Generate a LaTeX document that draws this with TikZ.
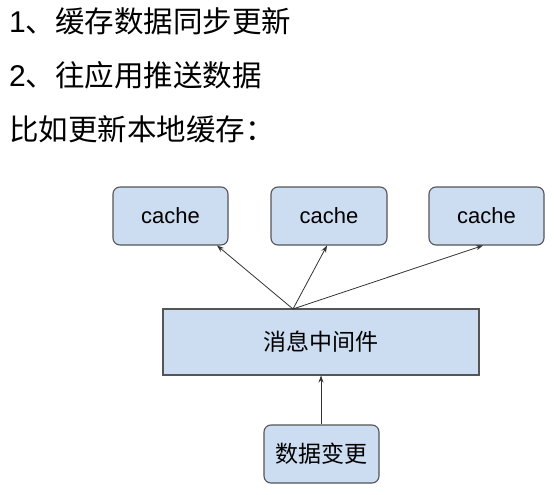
\documentclass[tikz,border=0pt]{standalone}
\usepackage{fontspec}
\setmainfont{Liberation Sans}
\newfontfamily\cjk{Noto Sans CJK SC}
\usetikzlibrary{arrows.meta}
\definecolor{boxfill}{HTML}{CCDCF1}
\definecolor{boxline}{HTML}{555555}
\begin{document}
\begin{tikzpicture}[x=1pt,y=-1pt,
  rbox/.style={draw=boxline,fill=boxfill,line width=1.1pt,rounded corners=7pt,inner sep=0pt},
  sbox/.style={draw=boxline,fill=boxfill,line width=1.1pt,inner sep=0pt},
  conn/.style={draw=black!80,line width=0.8pt,-{Stealth[length=7pt,width=5pt]}},
  head/.style={anchor=west,inner sep=0pt,font=\fontsize{30}{34}\selectfont}]
\useasboundingbox (0,0) rectangle (554,495);
\fill[white] (0,0) rectangle (554,495);
\node[head] (t1) at (9,21) {1{\cjk\fontsize{29.5}{34}\selectfont 、缓存数据同步更新}};
\node[head] (t2) at (9,75) {2{\cjk\fontsize{29.5}{34}\selectfont 、往应用推送数据}};
\node[head] (t3) at (9,129) {\cjk\fontsize{29.5}{34}\selectfont 比如更新本地缓存：};
\node[rbox,minimum width=115pt,minimum height=58pt,font=\fontsize{22}{26}\selectfont] (c1) at (170.5,216) {cache};
\node[rbox,minimum width=116pt,minimum height=58pt,font=\fontsize{22}{26}\selectfont] (c2) at (329,216) {cache};
\node[rbox,minimum width=115pt,minimum height=58pt,font=\fontsize{22}{26}\selectfont] (c3) at (486.5,216) {cache};
\node[sbox,minimum width=316pt,minimum height=66pt,font=\cjk\fontsize{23}{26}\selectfont] (mw) at (321,342) {消息中间件};
\node[rbox,minimum width=115pt,minimum height=58pt,font=\cjk\fontsize{23}{26}\selectfont] (dc) at (321.5,454) {数据变更};
\coordinate (src) at (293,309);
\draw[conn] (src) -- (217,245.5) coordinate (e1);
\draw[conn] (src) -- (327,245.5) coordinate (e2);
\draw[conn] (src) -- (483,245.5) coordinate (e3);
\draw[conn] (dc.north -| 321,0) -- (mw.south -| 321,0);
\end{tikzpicture}
\end{document}
